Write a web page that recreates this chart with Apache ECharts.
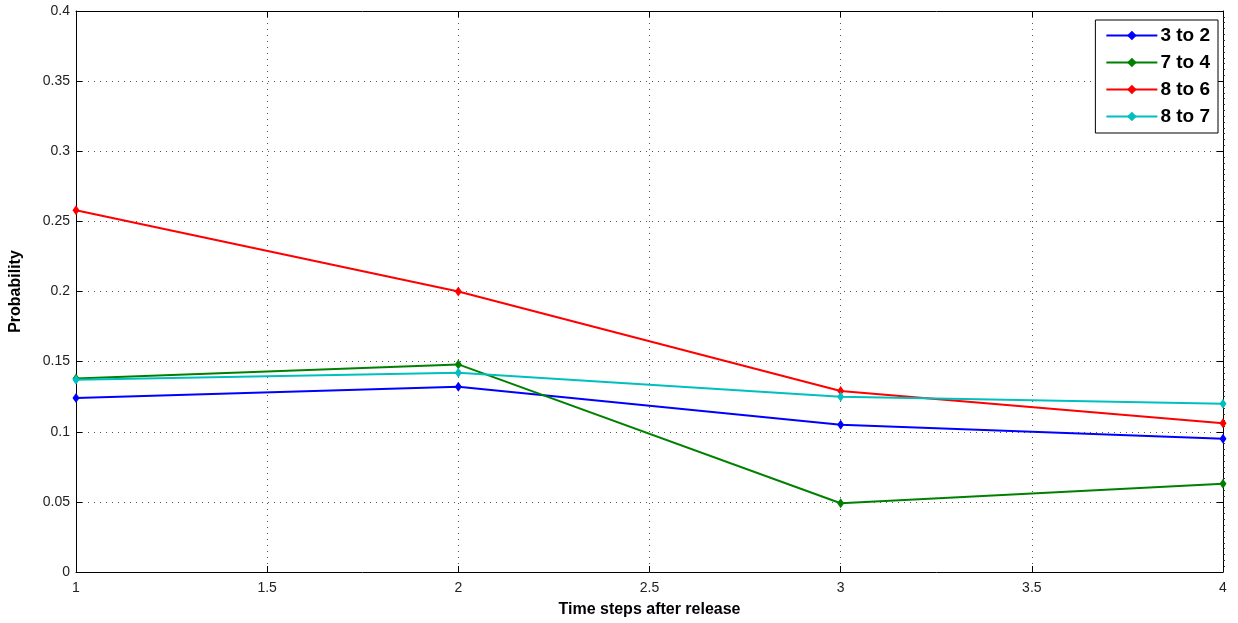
<!DOCTYPE html>
<html>
<head>
<meta charset="utf-8">
<script src="https://cdn.jsdelivr.net/npm/echarts@6/dist/echarts.min.js"></script>
<style>
  html, body { margin: 0; padding: 0; background: #fff; }
  #chart { width: 1238px; height: 623px; }
</style>
</head>
<body>
<div id="chart"></div>
<script>
// Time steps after release
const timeSteps = [1, 2, 3, 4];

// Transition probabilities for each pair
const p3to2 = [0.124, 0.132, 0.105, 0.095];
const p7to4 = [0.138, 0.148, 0.049, 0.063];
const p8to6 = [0.258, 0.200, 0.129, 0.106];
const p8to7 = [0.137, 0.142, 0.125, 0.120];

const seriesNames = ['3 to 2', '7 to 4', '8 to 6', '8 to 7'];
const seriesValues = [p3to2, p7to4, p8to6, p8to7];
const seriesColors = ['#0000ff', '#008000', '#ff0000', '#00bfbf'];

const xTicks = [1, 1.5, 2, 2.5, 3, 3.5, 4];
const yTicks = [0, 0.05, 0.1, 0.15, 0.2, 0.25, 0.3, 0.35, 0.4];

const font = 'Arial, "Liberation Sans", sans-serif';
const fmt = v => String(Math.round(v * 100) / 100);

const chart = echarts.init(document.getElementById('chart'));

const series = seriesNames.map((name, i) => ({
  name: name,
  type: 'line',
  data: timeSteps.map((t, k) => [t, seriesValues[i][k]]),
  color: seriesColors[i],
  lineStyle: { width: 2, color: seriesColors[i] },
  itemStyle: { color: seriesColors[i] },
  symbol: 'diamond',
  symbolSize: [7, 10],
  showSymbol: true,
  animation: false,
  z: 3 + i
}));

const boxAxis = (extra) => Object.assign({
  type: 'value',
  axisLine: { show: true, onZero: false, lineStyle: { color: '#000', width: 1 } },
  axisTick: { show: true, inside: true, length: 6, lineStyle: { color: '#000' } },
  axisLabel: { show: false },
  splitLine: { show: false }
}, extra);

chart.setOption({
  animation: false,
  grid: { left: 76, right: 15, top: 11, bottom: 50, containLabel: false },
  legend: {
    orient: 'vertical',
    right: 20,
    top: 20,
    data: seriesNames,
    backgroundColor: '#fff',
    borderColor: '#000',
    borderWidth: 1,
    borderRadius: 0,
    padding: [5, 8, 6, 10],
    itemWidth: 51,
    itemHeight: 12,
    itemGap: 6,
    textStyle: { fontFamily: font, fontWeight: 'bold', fontSize: 19, lineHeight: 21, color: '#000', padding: [0, 0, 0, -2] }
  },
  xAxis: [
    {
      type: 'value',
      min: 1, max: 4, interval: 0.5,
      name: 'Time steps after release',
      nameLocation: 'middle',
      nameGap: 30,
      nameTextStyle: { fontFamily: font, fontWeight: 'bold', fontSize: 16, color: '#000' },
      axisLine: { show: true, onZero: false, lineStyle: { color: '#000', width: 1 } },
      axisTick: { show: true, inside: true, length: 6, lineStyle: { color: '#000' } },
      axisLabel: { fontFamily: font, fontSize: 14, color: '#222', margin: 9, formatter: fmt,
                   customValues: xTicks },
      splitLine: { show: true, lineStyle: { color: '#555', type: [1, 5], width: 1 } }
    },
    boxAxis({ position: 'top', min: 1, max: 4, interval: 0.5 })
  ],
  yAxis: [
    {
      type: 'value',
      min: 0, max: 0.4, interval: 0.05,
      name: 'Probability',
      nameLocation: 'middle',
      nameGap: 52,
      nameRotate: 90,
      nameTextStyle: { fontFamily: font, fontWeight: 'bold', fontSize: 16, color: '#000' },
      axisLine: { show: true, onZero: false, lineStyle: { color: '#000', width: 1 } },
      axisTick: { show: true, inside: true, length: 6, lineStyle: { color: '#000' } },
      axisLabel: { fontFamily: font, fontSize: 14, color: '#222', margin: 6, formatter: fmt,
                   customValues: yTicks },
      splitLine: { show: true, lineStyle: { color: '#555', type: [1, 5], width: 1 } }
    },
    boxAxis({ position: 'right', min: 0, max: 0.4, interval: 0.05 }),
    // fine outward tick marks along the right edge
    boxAxis({
      position: 'right', min: 0, max: 0.4, interval: 0.05,
      axisLine: { show: false },
      axisTick: { show: false },
      minorTick: { show: true, splitNumber: 12, length: 2, lineStyle: { color: '#333' } }
    })
  ],
  series: series
});
</script>
</body>
</html>
